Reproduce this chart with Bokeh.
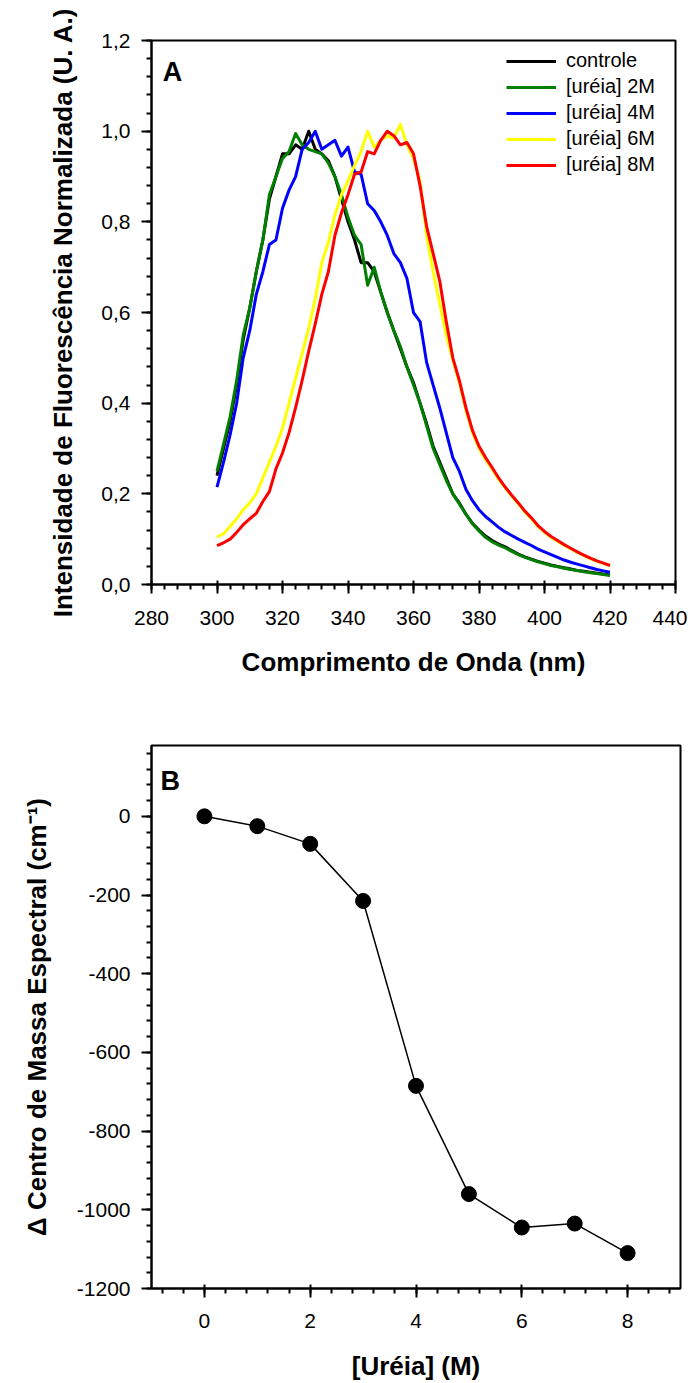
from bokeh.plotting import figure
from bokeh.models import (Range1d, SingleIntervalTicker, CustomJSTickFormatter,
                          Legend, LegendItem, Label)
from bokeh.layouts import column
from bokeh.embed import file_html
from bokeh.resources import INLINE

# ---------------- data: panel A ----------------
wavelength = list(range(300, 421, 2))

controle = [0.24, 0.30, 0.36, 0.44, 0.54, 0.61, 0.69, 0.76, 0.85, 0.90,
            0.95, 0.95, 0.97, 0.96, 1.00, 0.96, 0.95, 0.935, 0.90, 0.85,
            0.80, 0.76, 0.71, 0.71, 0.69, 0.645, 0.60, 0.56, 0.52, 0.48,
            0.445, 0.40, 0.355, 0.305, 0.27, 0.235, 0.20, 0.18, 0.155, 0.135,
            0.12, 0.107, 0.097, 0.089, 0.083, 0.075, 0.067, 0.061, 0.056, 0.051,
            0.047, 0.043, 0.040, 0.037, 0.034, 0.031, 0.029, 0.027, 0.025, 0.023, 0.021]

ureia_2M = [0.25, 0.31, 0.37, 0.45, 0.55, 0.61, 0.69, 0.76, 0.86, 0.90,
            0.94, 0.955, 0.995, 0.97, 0.96, 0.955, 0.95, 0.93, 0.90, 0.86,
            0.81, 0.77, 0.75, 0.66, 0.70, 0.645, 0.60, 0.56, 0.525, 0.48,
            0.44, 0.40, 0.35, 0.30, 0.265, 0.23, 0.20, 0.178, 0.155, 0.134,
            0.118, 0.104, 0.094, 0.087, 0.081, 0.073, 0.066, 0.060, 0.055, 0.050,
            0.046, 0.042, 0.039, 0.036, 0.033, 0.031, 0.028, 0.026, 0.024, 0.022, 0.020]

ureia_4M = [0.215, 0.27, 0.33, 0.40, 0.50, 0.56, 0.64, 0.69, 0.75, 0.76,
            0.83, 0.87, 0.90, 0.96, 0.975, 1.00, 0.96, 0.97, 0.98, 0.945,
            0.965, 0.91, 0.905, 0.84, 0.825, 0.80, 0.77, 0.73, 0.71, 0.675,
            0.60, 0.58, 0.49, 0.44, 0.39, 0.335, 0.28, 0.25, 0.21, 0.185,
            0.165, 0.15, 0.138, 0.126, 0.116, 0.108, 0.100, 0.093, 0.086, 0.078,
            0.072, 0.066, 0.060, 0.054, 0.049, 0.045, 0.041, 0.037, 0.033, 0.030, 0.027]

ureia_6M = [0.105, 0.112, 0.128, 0.145, 0.165, 0.18, 0.20, 0.235, 0.27, 0.305,
            0.345, 0.40, 0.455, 0.51, 0.565, 0.63, 0.71, 0.755, 0.815, 0.86,
            0.89, 0.925, 0.955, 1.00, 0.965, 0.98, 0.99, 0.985, 1.015, 0.97,
            0.94, 0.89, 0.77, 0.69, 0.62, 0.55, 0.495, 0.445, 0.385, 0.335,
            0.30, 0.275, 0.255, 0.232, 0.213, 0.195, 0.178, 0.16, 0.145, 0.128,
            0.115, 0.104, 0.095, 0.087, 0.079, 0.071, 0.064, 0.057, 0.051, 0.046, 0.042]

ureia_8M = [0.086, 0.092, 0.10, 0.115, 0.132, 0.145, 0.157, 0.183, 0.205, 0.255,
            0.29, 0.335, 0.39, 0.45, 0.515, 0.575, 0.64, 0.69, 0.77, 0.82,
            0.86, 0.905, 0.91, 0.955, 0.95, 0.98, 1.00, 0.99, 0.97, 0.975,
            0.95, 0.88, 0.79, 0.73, 0.67, 0.58, 0.50, 0.45, 0.39, 0.34,
            0.305, 0.28, 0.258, 0.235, 0.215, 0.197, 0.18, 0.162, 0.147, 0.13,
            0.117, 0.106, 0.097, 0.088, 0.080, 0.072, 0.065, 0.058, 0.052, 0.047, 0.042]

series_labels = ["controle", "[uréia] 2M", "[uréia] 4M", "[uréia] 6M", "[uréia] 8M"]
series_colors = ["#000000", "#008000", "#0000FF", "#FFFF00", "#FF0000"]

# ---------------- data: panel B ----------------
ureia_conc = [0, 1, 2, 3, 4, 5, 6, 7, 8]
delta_centro = [0, -25, -70, -215, -685, -960, -1045, -1035, -1110]

FONT = "Liberation Sans"


def style(p, x_interval, y_interval):
    p.xgrid.visible = False
    p.ygrid.visible = False
    p.outline_line_color = "black"
    p.outline_line_width = 2
    p.outline_line_alpha = 1
    p.background_fill_color = "white"
    p.border_fill_color = "white"
    p.xaxis.ticker = SingleIntervalTicker(interval=x_interval, num_minor_ticks=5)
    p.yaxis.ticker = SingleIntervalTicker(interval=y_interval, num_minor_ticks=5)
    for ax in (p.xaxis[0], p.yaxis[0]):
        ax.axis_line_width = 2
        ax.axis_line_color = "black"
        ax.major_tick_line_width = 2
        ax.minor_tick_line_width = 2
        ax.major_tick_line_color = "black"
        ax.minor_tick_line_color = "black"
        ax.major_label_text_font = FONT
        ax.major_label_text_font_size = "21px"
        ax.major_label_text_color = "black"
        ax.axis_label_text_font = FONT
        ax.axis_label_text_font_size = "26px"
        ax.axis_label_text_font_style = "bold"
        ax.axis_label_text_color = "black"
    xa, ya = p.xaxis[0], p.yaxis[0]
    xa.major_tick_out = 9
    xa.major_tick_in = 4
    xa.minor_tick_out = 5
    xa.minor_tick_in = 0
    ya.major_tick_out = 10
    ya.major_tick_in = 0
    ya.minor_tick_out = 5
    ya.minor_tick_in = 0
    ya.major_label_standoff = 11


# ---------------- panel A ----------------
p1 = figure(width=687, height=688, x_range=Range1d(280, 440), y_range=Range1d(0, 1.2001),
            output_backend="svg", toolbar_location=None,
            min_border_left=151, min_border_right=12, min_border_top=40, min_border_bottom=104)
style(p1, 20, 0.2)
p1.yaxis[0].formatter = CustomJSTickFormatter(code="return tick.toFixed(1).replace('.', ',');")
p1.xaxis[0].axis_label = "Comprimento de Onda (nm)"
p1.yaxis[0].axis_label = "Intensidade de Fluorescência Normalizada (U. A.)"
p1.xaxis[0].major_label_standoff = 17
p1.xaxis[0].axis_label_standoff = 19
p1.yaxis[0].axis_label_standoff = 20

items = []
for ys, lab, col in zip([controle, ureia_2M, ureia_4M, ureia_6M, ureia_8M], series_labels, series_colors):
    r = p1.line(wavelength, ys, line_color=col, line_width=3, line_join="round")
    items.append(LegendItem(label=lab, renderers=[r]))

legend = Legend(items=items, location=(355, 408), padding=0, margin=0, spacing=3,
                glyph_width=50, glyph_height=20, label_height=20, label_standoff=10,
                label_text_font=FONT, label_text_font_size="20px", label_text_color="black",
                border_line_alpha=0, background_fill_alpha=0)
p1.add_layout(legend)

p1.add_layout(Label(x=283.4, y=1.130, text="A", text_font=FONT, text_font_style="bold",
                    text_font_size="27px", text_baseline="alphabetic", text_align="left",
                    text_color="black"))

# ---------------- panel B ----------------
p2 = figure(width=692, height=695, x_range=Range1d(-1, 9), y_range=Range1d(-1200, 180),
            output_backend="svg", toolbar_location=None,
            min_border_left=141, min_border_right=8, min_border_top=57, min_border_bottom=93)
style(p2, 2, 200)
p2.yaxis[0].formatter = CustomJSTickFormatter(code="return tick.toFixed(0);")
p2.xaxis[0].axis_label = "[Uréia] (M)"
p2.yaxis[0].axis_label = "Δ Centro de Massa Espectral (cm⁻¹)"
p2.xaxis[0].major_label_standoff = 16
p2.xaxis[0].axis_label_standoff = 20
p2.yaxis[0].axis_label_standoff = 22

p2.line(ureia_conc, delta_centro, line_color="black", line_width=1.5)
p2.scatter(ureia_conc, delta_centro, size=15, fill_color="black", line_color="black")

p2.add_layout(Label(x=-0.83, y=91, text="B", text_font=FONT, text_font_style="bold",
                    text_font_size="27px", text_baseline="alphabetic", text_align="left",
                    text_color="black"))

layout = column(p1, p2)
open("out.html", "w").write(file_html(layout, INLINE))
